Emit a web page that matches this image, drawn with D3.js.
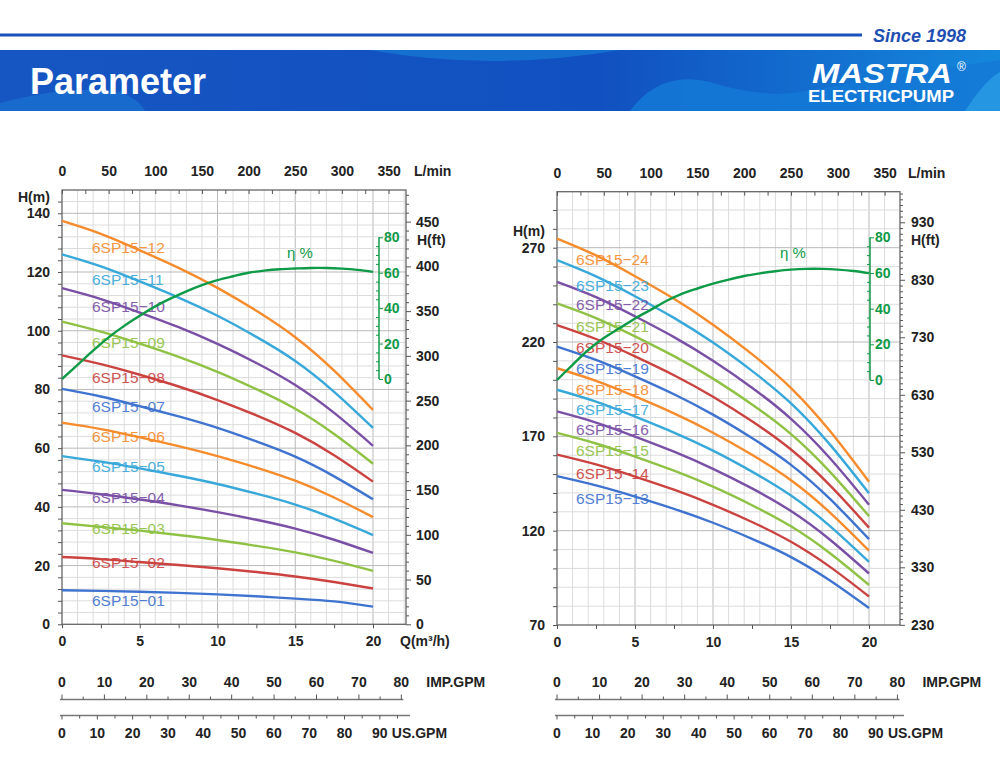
<!DOCTYPE html>
<html>
<head>
<meta charset="utf-8">
<script src="https://cdn.jsdelivr.net/npm/d3@7"></script>
<style>
  body { margin: 0; background: #fff; }
  svg { display: block; font-family: "Liberation Sans", Arial, sans-serif; }
</style>
</head>
<body>
<svg id="page" width="1000" height="759"></svg>
<script>
// ---------- data ----------
const flowQ = [0, 2.5, 5, 7.5, 10, 12.5, 15, 17.5, 20]; // m3/h

const leftModels = ['6SP15-01', '6SP15-02', '6SP15-03', '6SP15-04', '6SP15-05', '6SP15-06',
                    '6SP15-07', '6SP15-08', '6SP15-09', '6SP15-10', '6SP15-11', '6SP15-12'];
const leftHeads = [
  [11.6, 11.4, 11.1, 10.7, 10.2, 9.55, 8.75, 7.8, 6.0],
  [22.9, 22.2, 21.2, 20.2, 19.1, 17.8, 16.3, 14.4, 12.2],
  [34.4, 33.2, 31.9, 30.4, 28.7, 26.7, 24.5, 21.6, 18.2],
  [45.8, 44.3, 42.5, 40.5, 38.2, 35.6, 32.6, 28.8, 24.3],
  [57.3, 55.4, 53.1, 50.6, 47.8, 44.5, 40.8, 36.0, 30.4],
  [68.7, 66.5, 63.7, 60.7, 57.3, 53.4, 48.9, 43.2, 36.5],
  [80.2, 77.6, 74.3, 70.8, 66.9, 62.3, 57.1, 50.4, 42.6],
  [91.6, 88.6, 85.0, 81.0, 76.4, 71.2, 65.2, 57.6, 48.6],
  [103.1, 99.7, 95.6, 91.1, 86.0, 80.1, 73.4, 64.8, 54.7],
  [114.5, 110.8, 106.2, 101.2, 95.5, 89.0, 81.5, 72.0, 60.8],
  [126.0, 121.9, 116.8, 111.3, 105.1, 97.9, 89.7, 79.2, 66.9],
  [137.4, 133.0, 127.4, 121.4, 114.6, 106.8, 97.8, 86.4, 73.0]
];

const rightModels = ['6SP15-13', '6SP15-14', '6SP15-15', '6SP15-16', '6SP15-17', '6SP15-18',
                     '6SP15-19', '6SP15-20', '6SP15-21', '6SP15-22', '6SP15-23', '6SP15-24'];
const rightHeads = [
  [148.9, 144.0, 138.1, 131.6, 124.2, 115.7, 106.0, 93.6, 79.0],
  [160.3, 155.1, 148.7, 141.7, 133.7, 124.6, 114.1, 100.8, 85.1],
  [171.8, 166.2, 159.3, 151.8, 143.3, 133.5, 122.3, 108.0, 91.2],
  [183.2, 177.3, 169.9, 161.9, 152.8, 142.4, 130.4, 115.2, 97.3],
  [194.7, 188.4, 180.5, 172.0, 162.4, 151.3, 138.6, 122.4, 103.4],
  [206.1, 199.4, 191.2, 182.2, 171.9, 160.2, 146.7, 129.6, 109.4],
  [217.6, 210.5, 201.8, 192.3, 181.5, 169.1, 154.9, 136.8, 115.5],
  [229.0, 221.6, 212.4, 202.4, 191.0, 178.0, 163.0, 144.0, 121.6],
  [240.5, 232.7, 223.0, 212.5, 200.6, 186.9, 171.2, 151.2, 127.7],
  [251.9, 243.8, 233.6, 222.6, 210.1, 195.8, 179.3, 158.4, 133.8],
  [263.4, 254.8, 244.3, 232.8, 219.7, 204.7, 187.5, 165.6, 139.8],
  [274.8, 265.9, 254.9, 242.9, 229.2, 213.6, 195.6, 172.8, 145.9]
];

// efficiency (%) at Q = 0..20 m3/h
const effQ = [0, 1, 2, 3, 4, 5, 6, 7, 8, 9, 10, 11, 12, 13, 14, 15, 16, 17, 18, 19, 20];
const leftEff = [0, 8, 16, 23.5, 30, 35.7, 41, 45.5, 49.5, 53, 55.8, 58, 60, 61.2, 62, 62.4, 62.7, 62.7, 62.3, 61.6, 60.5];
const rightEff = [0, 8.5, 16.8, 23.5, 29, 34.5, 39.3, 44.3, 48.3, 51.3, 54, 56.3, 58.3, 59.8, 61, 61.9, 62.3, 62.3, 61.9, 61.1, 59.9];

// tick labels
const lpmTicks = [0, 50, 100, 150, 200, 250, 300, 350];
const impTicks = [0, 10, 20, 30, 40, 50, 60, 70, 80];
const usTicks = [0, 10, 20, 30, 40, 50, 60, 70, 80, 90];
const effTicks = [0, 20, 40, 60, 80];
const leftHTicks = [0, 20, 40, 60, 80, 100, 120, 140];
const leftFtTicks = [0, 50, 100, 150, 200, 250, 300, 350, 400, 450];
const rightHTicks = [70, 120, 170, 220, 270];
const rightFtTicks = [230, 330, 430, 530, 630, 730, 830, 930];

const curveColors = ['#3f73d0', '#cb4341', '#8fc244', '#7a4fa6', '#38a8da', '#f68b2c'];
const effColor = '#0e9a47';
const M_TO_FT = 3.2808;

const svg = d3.select('#page');

// ---------- header ----------
const defs = svg.append('defs');
const grad = defs.append('linearGradient').attr('id', 'band');
grad.append('stop').attr('offset', '0%').attr('stop-color', '#1656c2');
grad.append('stop').attr('offset', '60%').attr('stop-color', '#1150c0');
grad.append('stop').attr('offset', '100%').attr('stop-color', '#1488dc');

svg.append('line').attr('x1', 0).attr('x2', 862).attr('y1', 35).attr('y2', 35)
  .attr('stroke', '#1b50ba').attr('stroke-width', 3);
svg.append('text').attr('x', 873).attr('y', 42).text('Since 1998')
  .attr('font-size', 18).attr('font-weight', 'bold').attr('font-style', 'italic').attr('fill', '#1f4fb2');

svg.append('rect').attr('x', 0).attr('y', 50).attr('width', 1000).attr('height', 61).attr('fill', 'url(#band)');
svg.append('path').attr('d', 'M370,50 Q490,72 620,50 Z').attr('fill', '#1677d2').attr('opacity', 0.8);
svg.append('path').attr('d', 'M0,103 Q70,84 120,92 Q140,100 145,111 L0,111 Z').attr('fill', '#1a6fcf').attr('opacity', 0.8);
svg.append('path').attr('d', 'M630,111 Q660,70 710,82 Q760,98 800,92 Q880,78 1000,60 L1000,111 Z')
  .attr('fill', '#1479d6').attr('opacity', 0.85);
svg.append('path').attr('d', 'M965,111 Q985,80 1000,72 L1000,111 Z').attr('fill', '#2496e2');

svg.append('text').attr('x', 30).attr('y', 94).text('Parameter')
  .attr('font-size', 36).attr('font-weight', 'bold').attr('fill', '#fff');
svg.append('text').attr('x', 812).attr('y', 83).text('MASTRA')
  .attr('font-size', 27).attr('font-weight', 900).attr('font-style', 'italic')
  .attr('textLength', 140).attr('lengthAdjust', 'spacingAndGlyphs').attr('fill', '#fff');
svg.append('text').attr('x', 957).attr('y', 71).text('®')
  .attr('font-size', 12).attr('fill', '#fff');
svg.append('text').attr('x', 808).attr('y', 102).text('ELECTRICPUMP')
  .attr('font-size', 16).attr('font-weight', 'bold').attr('fill', '#fff')
  .attr('textLength', 146).attr('lengthAdjust', 'spacingAndGlyphs');

// ---------- chart ----------
class PumpChart {

  constructor(svg, cfg) {
    this.cfg = cfg;
    this.g = svg.append('g');
    this.x = d3.scaleLinear([0, 20], [cfg.left, cfg.q20]);
    this.y = d3.scaleLinear(cfg.hDomain, cfg.hRange);
    this.yFt = d3.scaleLinear(cfg.hDomain.map(v => v * M_TO_FT), cfg.hRange);
    this.xLpm = d3.scaleLinear([0, 20 * 1000 / 60], this.x.range());
    this.xImp = d3.scaleLinear([0, 20 * 3.6662], this.x.range());
    this.xUs = d3.scaleLinear([0, 20 * 4.4029], this.x.range());
    this.eff = d3.scaleLinear([0, 80], cfg.effRange);
    this.bottom = this.y(cfg.hDomain[0]);
    this.qMax = this.x.invert(cfg.right);
    this.hMax = this.y.invert(cfg.top);
  }

  #styleAxis(sel, color = '#222') {
    sel.select('.domain').remove();
    sel.selectAll('line').attr('stroke', '#555');
    sel.selectAll('text').attr('font-size', 14).attr('font-weight', 'bold')
      .attr('fill', color).attr('font-family', null);
  }

  #grid() {
    const c = this.cfg, g = this.g.append('g');
    const qs = d3.range(1, Math.floor(this.qMax) + 1);
    g.selectAll('line.v').data(qs).join('line')
      .attr('x1', d => this.x(d)).attr('x2', d => this.x(d))
      .attr('y1', c.top).attr('y2', this.bottom)
      .attr('stroke', d => d % 5 === 0 ? '#b9b9b9' : '#dcdcdc').attr('stroke-width', 1);
    const hs = d3.range(c.hDomain[0] + c.hStep, this.hMax, c.hStep);
    g.selectAll('line.h').data(hs).join('line')
      .attr('x1', c.left).attr('x2', c.right)
      .attr('y1', d => this.y(d)).attr('y2', d => this.y(d))
      .attr('stroke', d => (d - c.hDomain[0]) % c.hMajor === 0 ? '#b9b9b9' : '#dcdcdc').attr('stroke-width', 1);
    g.append('rect').attr('x', c.left).attr('y', c.top)
      .attr('width', c.right - c.left).attr('height', this.bottom - c.top)
      .attr('fill', 'none').attr('stroke', '#666').attr('stroke-width', 1.3);
  }

  #axes() {
    const c = this.cfg;
    // flow m3/h
    const ax = this.g.append('g').attr('transform', `translate(0,${this.bottom})`)
      .call(d3.axisBottom(this.x).tickValues(d3.range(0, this.qMax, 2.5)).tickSize(4).tickPadding(8)
        .tickFormat(d => d % 5 === 0 ? d : ''));
    this.#styleAxis(ax);
    // L/min
    const at = this.g.append('g').attr('transform', `translate(0,${c.top})`)
      .call(d3.axisTop(this.xLpm).tickValues(d3.range(0, 360, 25)).tickSize(-4).tickPadding(14)
        .tickFormat(d => lpmTicks.includes(d) ? d : ''));
    this.#styleAxis(at);
    // H (m)
    const al = this.g.append('g').attr('transform', `translate(${c.left},0)`)
      .call(d3.axisLeft(this.y).tickValues(d3.range(c.hDomain[0], this.hMax, c.hTickStep)).tickSize(4).tickPadding(8)
        .tickFormat(d => c.hTicks.includes(d) ? d : ''));
    this.#styleAxis(al);
    // H (ft)
    const ftMax = this.hMax * M_TO_FT;
    const ftStart = Math.ceil(c.hDomain[0] * M_TO_FT / 10) * 10;
    const ar = this.g.append('g').attr('transform', `translate(${c.right},0)`)
      .call(d3.axisRight(this.yFt).tickValues(d3.range(ftStart, ftMax, 10)).tickSize(3).tickPadding(c.ftPad)
        .tickFormat(d => c.ftTicks.includes(d) ? d : ''));
    this.#styleAxis(ar);
    ar.selectAll('line').filter(d => c.ftTicks.includes(d)).attr('x2', 5);
    // efficiency
    const ae = this.g.append('g').attr('transform', `translate(${c.effX},0)`)
      .call(d3.axisRight(this.eff).tickValues(d3.range(0, 81, 5)).tickSize(3).tickPadding(2)
        .tickFormat(d => effTicks.includes(d) ? d : ''));
    this.#styleAxis(ae, effColor);
    ae.selectAll('line').attr('stroke', effColor).attr('x2', d => effTicks.includes(d) ? 4 : -3);
    ae.append('line').attr('y1', this.eff(0)).attr('y2', this.eff(80))
      .attr('stroke', effColor).attr('stroke-width', 1.5);
  }

  #units() {
    const c = this.cfg;
    const unit = (x, y, t, color = '#222') => this.g.append('text').attr('x', x).attr('y', y)
      .attr('dy', '0.35em').text(t).attr('font-size', 14).attr('font-weight', 'bold').attr('fill', color);
    unit(c.right + 8, c.top - 19, 'L/min');
    unit(c.hLabelX, c.hLabelY, 'H(m)');
    unit(c.right + 11, 240, 'H(ft)');
    if (c.qLabel) unit(c.right - 6, this.bottom + 17, 'Q(m³/h)');
    this.g.append('text').attr('x', c.etaX).attr('y', 253).attr('dy', '0.35em')
      .text('η %').attr('font-size', 15).attr('fill', effColor);
  }

  #curves(models, heads, eff) {
    const c = this.cfg;
    const line = d3.line().x(d => this.x(d[0])).y(d => this.y(d[1])).curve(d3.curveNatural);
    const series = heads.map((h, i) => ({ name: models[i], pts: flowQ.map((q, j) => [q, h[j]]), color: curveColors[i % 6] }));
    this.g.append('g').selectAll('path').data(series).join('path')
      .attr('d', d => line(d.pts)).attr('fill', 'none')
      .attr('stroke', d => d.color).attr('stroke-width', 2.4);
    this.g.append('g').selectAll('text').data(series).join('text')
      .attr('x', c.labelX).attr('y', (d, i) => c.labelY[i]).attr('dy', '0.35em')
      .text(d => d.name.replace('-', '\u2212')).attr('fill', d => d.color)
      .attr('font-size', 15.5).attr('opacity', 0.9);
    const effLine = d3.line().x(d => this.x(d[0])).y(d => this.eff(d[1])).curve(d3.curveCatmullRom.alpha(0.5));
    this.g.append('path').attr('d', effLine(effQ.map((q, i) => [q, eff[i]])))
      .attr('fill', 'none').attr('stroke', effColor).attr('stroke-width', 2.4);
  }

  #rulers() {
    const c = this.cfg, g = this.g.append('g');
    const yI = 699.5, yU = 715.5;
    g.append('line').attr('x1', this.xImp(0) - 2).attr('x2', this.xImp(80) + 2)
      .attr('y1', yI).attr('y2', yI).attr('stroke', '#777').attr('stroke-width', 1.6);
    g.selectAll('line.ti').data(d3.range(0, 81, 5)).join('line')
      .attr('x1', d => this.xImp(d)).attr('x2', d => this.xImp(d))
      .attr('y1', yI).attr('y2', d => d % 10 === 0 ? yI - 5 : yI - 3).attr('stroke', '#555');
    g.selectAll('text.ti').data(impTicks).join('text')
      .attr('x', d => this.xImp(d)).attr('y', yI - 17).attr('dy', '0.35em').attr('text-anchor', 'middle')
      .text(d => d).attr('font-size', 14).attr('font-weight', 'bold').attr('fill', '#222');
    g.append('text').attr('x', this.xImp(80) + 25).attr('y', yI - 17).attr('dy', '0.35em')
      .text('IMP.GPM').attr('font-size', 14).attr('font-weight', 'bold').attr('fill', '#222');

    const usEnd = this.xUs.invert(c.right + 4);
    g.append('line').attr('x1', this.xUs(0) - 2).attr('x2', this.xUs(usEnd))
      .attr('y1', yU).attr('y2', yU).attr('stroke', '#777').attr('stroke-width', 1.6);
    g.selectAll('line.tu').data(d3.range(0, usEnd, 5)).join('line')
      .attr('x1', d => this.xUs(d)).attr('x2', d => this.xUs(d))
      .attr('y1', yU).attr('y2', d => d % 10 === 0 ? yU + 4 : yU + 3).attr('stroke', '#555');
    g.selectAll('text.tu').data(usTicks).join('text')
      .attr('x', d => this.xUs(d)).attr('y', yU + 18).attr('dy', '0.35em').attr('text-anchor', 'middle')
      .text(d => d).attr('font-size', 14).attr('font-weight', 'bold').attr('fill', '#222');
    g.append('text').attr('x', this.xUs(90) + 12).attr('y', yU + 18).attr('dy', '0.35em')
      .text('US.GPM').attr('font-size', 14).attr('font-weight', 'bold').attr('fill', '#222');
  }

  render(models, heads, eff) {
    this.#grid();
    this.#curves(models, heads, eff);
    this.#axes();
    this.#units();
    this.#rulers();
    return this;
  }
}

new PumpChart(svg, {
  left: 62, q20: 373, right: 406, top: 190,
  hDomain: [0, 140], hRange: [624.3, 213.3], hStep: 4, hMajor: 20, hTickStep: 4,
  hTicks: leftHTicks, ftTicks: leftFtTicks, ftPad: 7,
  effX: 379, effRange: [379, 237.3], etaX: 287,
  hLabelX: 18, hLabelY: 197, qLabel: true,
  labelX: 92, labelY: [601, 563, 529, 498, 467, 437, 407, 378, 343, 307, 280, 248]
}).render(leftModels, leftHeads, leftEff);

new PumpChart(svg, {
  left: 557, q20: 869, right: 900, top: 191.7,
  hDomain: [70, 270], hRange: [625, 247.7], hStep: 10, hMajor: 50, hTickStep: 10,
  hTicks: rightHTicks, ftTicks: rightFtTicks, ftPad: 8,
  effX: 870, effRange: [380, 237.3], etaX: 780,
  hLabelX: 513, hLabelY: 231.5, qLabel: false,
  labelX: 576, labelY: [499, 474, 451, 430, 410, 389.5, 369, 348, 327, 305, 286, 260]
}).render(rightModels, rightHeads, rightEff);
</script>
</body>
</html>
